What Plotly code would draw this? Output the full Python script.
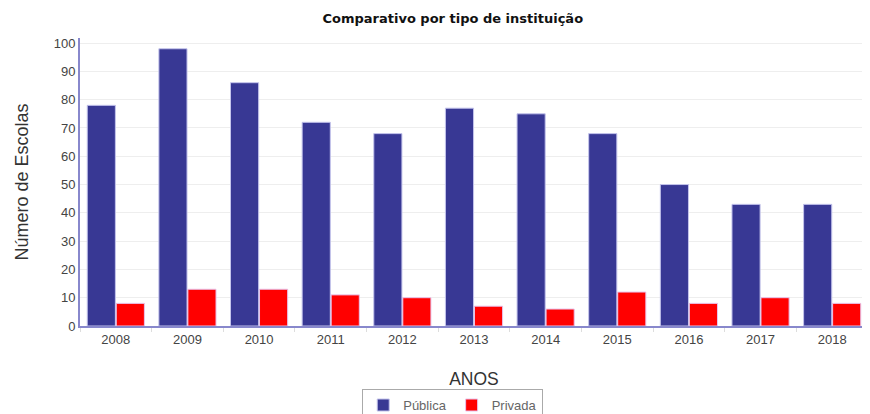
import plotly.graph_objects as go

anos = ["2008", "2009", "2010", "2011", "2012", "2013", "2014", "2015", "2016", "2017", "2018"]
publica = [78, 98, 86, 72, 68, 77, 75, 68, 50, 43, 43]
privada = [8, 13, 13, 11, 10, 7, 6, 12, 8, 10, 8]

fig = go.Figure()
fig.add_trace(go.Bar(x=anos, y=publica, name="Pública",
                     marker=dict(color="#383894", line=dict(color="#c4c4ec", width=1))))
fig.add_trace(go.Bar(x=anos, y=privada, name="Privada",
                     marker=dict(color="#ff0000", line=dict(color="#e8c4ec", width=1))))

# page body has an 8px margin, so the figure is sized/offset to compensate
fig.update_layout(
    width=862, height=406,
    margin=dict(l=72, r=2, t=30, b=88, autoexpand=False),
    paper_bgcolor="white", plot_bgcolor="white",
    font=dict(family="Liberation Sans, Arial, sans-serif", size=13, color="#444"),
    title=dict(text="<b>Comparativo por tipo de instituição</b>", x=0.516, xanchor="center",
               y=0.974, yanchor="middle",
               font=dict(family="DejaVu Sans, Verdana, sans-serif", size=13, color="#111"),
               automargin=False),
    barmode="group", bargap=0.19, bargroupgap=0.03,
    showlegend=True,
    legend=dict(orientation="h", x=0.473, xanchor="center", y=-0.219, yanchor="top",
                bordercolor="#aaa", borderwidth=1, font=dict(size=13, color="#666"),
                itemwidth=30, tracegroupgap=0),
    xaxis=dict(title=dict(text="ANOS", font=dict(size=17.5, color="#333"), standoff=27),
               automargin=False,
               showline=True, linecolor="#8888cc", linewidth=2,
               ticks="outside", tickson="boundaries", ticklen=4, tickcolor="#ddd",
               tickfont=dict(size=13, color="#444"), showgrid=False),
    yaxis=dict(title=dict(text="Número de Escolas", font=dict(size=18, color="#333"), standoff=20),
               automargin=False,
               range=[0, 101.8], dtick=10, showline=True, linecolor="#8888cc", linewidth=2,
               gridcolor="#eeeeee", zeroline=False, tickfont=dict(size=13, color="#444"),
               ticks="", ticklen=0),
)

fig.write_html("out.html")
